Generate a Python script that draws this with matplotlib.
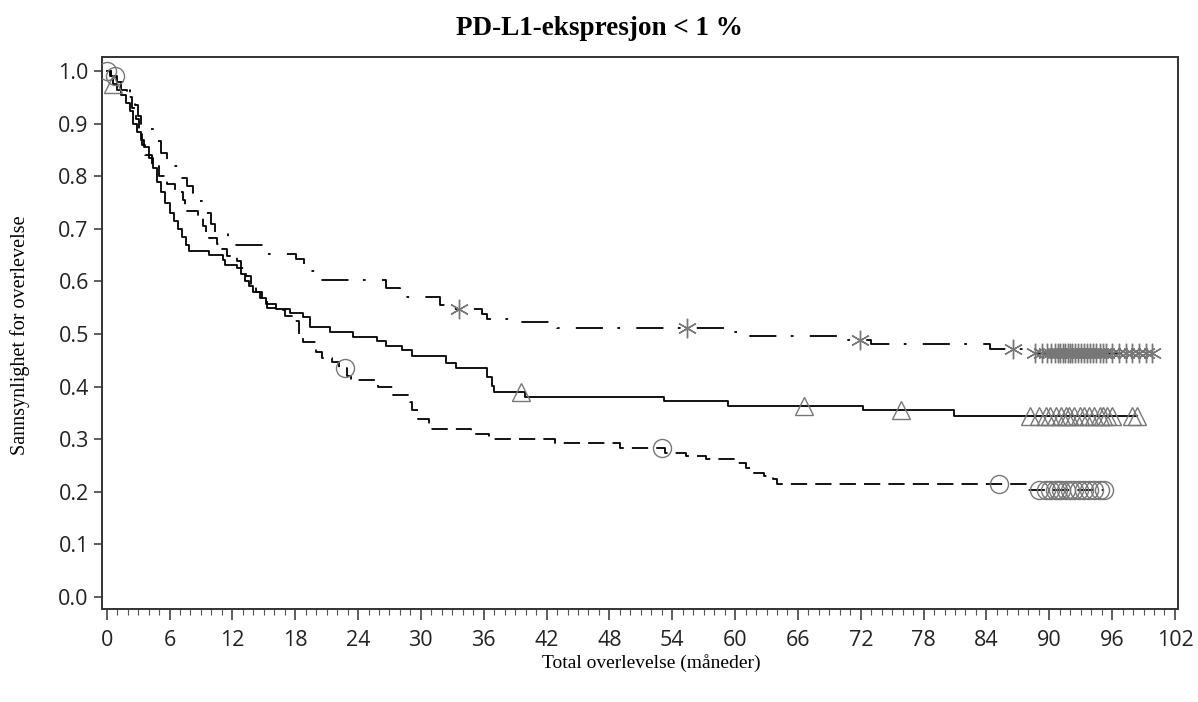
import numpy as np
import matplotlib
matplotlib.use('Agg')
import matplotlib.pyplot as plt
from matplotlib.ticker import MultipleLocator, FormatStrFormatter

# Solid curve (triangle censor marks): step times (months) and survival after each step
solid_t = [0.3, 0.6, 1.0, 1.4, 1.8, 2.2, 2.5, 2.9, 3.3, 3.6, 4.0, 4.4, 4.8, 5.2, 5.6,
           6.0, 6.4, 6.8, 7.2, 7.6, 7.9, 9.8, 11.1, 11.3, 12.4, 12.8, 13.2, 13.6, 14.0,
           14.6, 15.2, 16.2, 17.5, 18.7, 19.4, 21.3, 23.5, 25.8, 26.7, 28.2, 29.2, 32.4,
           33.4, 36.3, 36.8, 37.0, 39.9, 53.2, 59.3, 72.2, 80.9]
solid_s = [0.99, 0.975, 0.965, 0.955, 0.94, 0.925, 0.90, 0.885, 0.87, 0.855, 0.835, 0.815,
           0.79, 0.77, 0.75, 0.73, 0.715, 0.70, 0.685, 0.67, 0.658, 0.65, 0.64, 0.632,
           0.625, 0.615, 0.60, 0.592, 0.58, 0.568, 0.558, 0.548, 0.54, 0.532, 0.513, 0.503,
           0.494, 0.486, 0.478, 0.469, 0.459, 0.445, 0.435, 0.418, 0.402, 0.39, 0.381,
           0.372, 0.364, 0.356, 0.345]
solid_end = 98.4
solid_cens = [0.6, 39.6, 66.6, 75.8, 88.2, 89.0, 89.7, 90.1, 90.6, 91.1, 91.6, 91.9,
              92.4, 92.9, 93.3, 93.8, 94.3, 94.8, 95.1, 95.5, 96.0, 97.9, 98.4]

# Dashed curve (circle censor marks)
dash_t = [0.4, 0.9, 1.4, 1.9, 2.4, 2.8, 3.1, 3.4, 3.7, 4.3, 5.0, 5.8, 6.5, 7.3, 7.5, 8.7,
          9.2, 9.5, 9.8, 10.5, 11.0, 11.5, 12.4, 12.8, 13.3, 13.8, 14.3, 14.8, 15.3, 16.5,
          17.0, 18.0, 18.4, 18.7, 20.0, 20.6, 21.5, 22.2, 22.9, 23.3, 25.9, 27.3, 29.0,
          29.2, 29.7, 30.8, 34.8, 36.5, 42.8, 49.0, 53.3, 55.3, 57.2, 60.0, 61.0, 61.8,
          62.8, 63.6, 64.0, 87.8]
dash_s = [0.99, 0.98, 0.965, 0.95, 0.93, 0.91, 0.89, 0.86, 0.84, 0.82, 0.80, 0.785, 0.77,
          0.755, 0.735, 0.72, 0.706, 0.695, 0.683, 0.672, 0.662, 0.648, 0.638, 0.625, 0.61,
          0.595, 0.58, 0.565, 0.55, 0.545, 0.535, 0.525, 0.50, 0.484, 0.465, 0.455, 0.446,
          0.436, 0.42, 0.412, 0.40, 0.385, 0.37, 0.355, 0.338, 0.319, 0.309, 0.30, 0.292,
          0.284, 0.273, 0.268, 0.262, 0.254, 0.245, 0.236, 0.23, 0.224, 0.214, 0.203]
dash_end = 95.2
dash_cens = [0.0, 0.8, 22.8, 53.0, 85.2, 89.0, 89.7, 90.1, 90.5, 90.8, 91.1, 91.6, 92.0,
             92.4, 92.8, 93.3, 93.8, 94.3, 94.8, 95.2]

# Dash-dot curve (asterisk censor marks)
dd_t = [0.4, 1.0, 1.6, 2.2, 2.7, 3.0, 3.3, 3.8, 4.6, 5.2, 5.8, 6.5, 7.0, 7.7, 8.2, 8.7,
        9.4, 10.0, 10.3, 11.6, 11.9, 15.1, 18.1, 18.8, 19.4, 20.0, 26.7, 28.0, 31.8, 32.5,
        35.8, 36.3, 39.0, 43.0, 59.6, 61.0, 70.7, 73.0, 84.3, 88.0]
dd_s = [0.99, 0.98, 0.965, 0.95, 0.935, 0.915, 0.90, 0.89, 0.867, 0.845, 0.832, 0.82,
        0.797, 0.782, 0.768, 0.753, 0.73, 0.71, 0.693, 0.68, 0.67, 0.653, 0.643, 0.63,
        0.62, 0.603, 0.588, 0.571, 0.556, 0.548, 0.539, 0.529, 0.522, 0.512, 0.503, 0.497,
        0.488, 0.481, 0.472, 0.463]
dd_end = 99.8
dd_cens = [33.6, 55.4, 71.9, 86.5, 88.6, 89.3, 89.8, 90.2, 90.5, 90.8, 91.0, 91.3, 91.5,
           91.8, 92.0, 92.2, 92.5, 92.7, 93.0, 93.3, 93.6, 93.9, 94.2, 94.5, 94.8, 95.1,
           95.4, 96.0, 96.7, 97.3, 97.9, 98.6, 99.2, 99.8]

x_ticks = np.arange(0, 103, 6)
y_ticks = np.arange(0, 1.01, 0.1)


def surv_at(t, s, times):
    idx = np.searchsorted(t, times, side='right') - 1
    s = np.asarray(s)
    return np.where(idx < 0, 1.0, s[np.clip(idx, 0, None)])


def km(ax, t, s, end, cens, marker, ms, dashes=None):
    x = np.r_[0, t, end]
    y = np.r_[1.0, s, s[-1]]
    kw = {} if dashes is None else {'dashes': dashes}
    ax.step(x, y, where='post', color='black', lw=1.3, zorder=3, **kw)
    ax.plot(cens, surv_at(t, s, cens), ls='none', marker=marker, ms=ms,
            mfc='none', mec='#777777', mew=1.0, zorder=4)


fig = plt.figure(figsize=(11.98, 7.02), dpi=100)
ax = fig.add_axes([0.0851, 0.1325, 0.8983, 0.7863])

km(ax, dd_t, dd_s, dd_end, dd_cens, (6, 2, 0), 14, dashes=(15, 8, 1.5, 9))
km(ax, solid_t, solid_s, solid_end, solid_cens, '^', 13)
km(ax, dash_t, dash_s, dash_end, dash_cens, 'o', 13, dashes=(9, 4.5))

ax.set_xlim(-0.45, 102.3)
ax.set_ylim(-0.023, 1.027)
ax.set_xticks(x_ticks)
ax.xaxis.set_minor_locator(MultipleLocator(1))
ax.set_yticks(y_ticks)
ax.yaxis.set_major_formatter(FormatStrFormatter('%.1f'))
ax.tick_params(axis='both', which='major', labelsize=15.5, length=6, width=1.1,
               color='#333333', labelcolor='#222222')
ax.tick_params(axis='x', which='major', length=8, pad=7)
ax.tick_params(axis='x', which='minor', length=4, width=0.8, color='#555555')
for lab in ax.get_xticklabels() + ax.get_yticklabels():
    lab.set_family('Open Sans')
for sp in ax.spines.values():
    sp.set_linewidth(1.4)
    sp.set_color('#333333')

fig.text(0.5, 0.96, 'PD-L1-ekspresjon < 1 %', ha='center', va='center',
         family='Liberation Serif', fontweight='bold', fontsize=19.5)
fig.text(0.544, 0.0556, 'Total overlevelse (måneder)', ha='center', va='center',
         family='Liberation Serif', fontsize=14)
fig.text(0.0167, 0.523, 'Sannsynlighet for overlevelse', ha='center', va='center',
         rotation=90, family='Liberation Serif', fontsize=14.5)

fig.savefig('out.png', dpi=100)
